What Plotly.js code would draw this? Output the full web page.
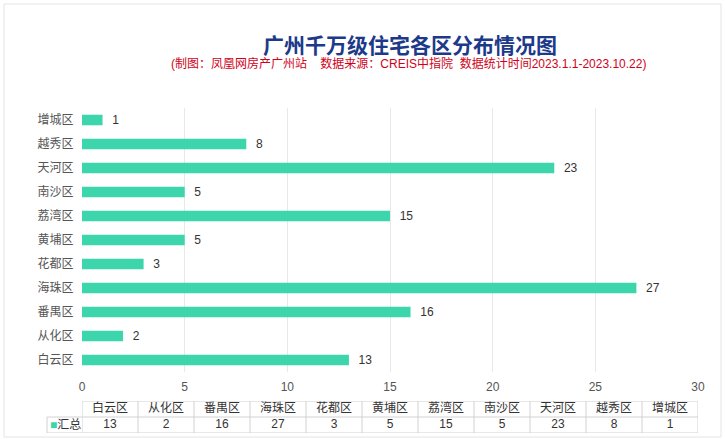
<!DOCTYPE html>
<html><head><meta charset="utf-8">
<script src="https://cdn.plot.ly/plotly-3.0.1.min.js"></script>
<style>html,body{margin:0;padding:0;background:#fff;}</style>
</head><body>
<div id="chart" style="width:725px;height:439px;"></div>
<script>
// Data (bottom to top as drawn)
const districts = ['白云区','从化区','番禺区','海珠区','花都区','黄埔区','荔湾区','南沙区','天河区','越秀区','增城区'];
const counts = [13, 2, 16, 27, 3, 5, 15, 5, 23, 8, 1];
const seriesName = '汇总';
const xTicks = [0, 5, 10, 15, 20, 25, 30];

const W = 725, H = 439;
const barColor = '#3dd5ac';
const gridLine = '#d2d2d2';
const font = '"Liberation Sans", Arial, "Noto Sans CJK SC", sans-serif';

const bar = {
  type: 'bar', orientation: 'h',
  y: districts, x: counts,
  marker: {color: barColor},
  text: counts.map(v => '\u00a0\u00a0' + v),
  textposition: 'outside',
  constraintext: 'none',
  textfont: {size: 12, color: '#333', family: font},
  cliponaxis: false,
  hoverinfo: 'none'
};

// data table under the chart: header row (row 1) and value row (row 0) on a category axis
const tableHeaderRow = {
  type: 'scatter', mode: 'text', xaxis: 'x2', yaxis: 'y2',
  x: districts, y: districts.map(() => 1.5),
  text: districts,
  textfont: {size: 12, color: '#333', family: font},
  cliponaxis: false, hoverinfo: 'none'
};
const tableValueRow = {
  type: 'scatter', mode: 'text', xaxis: 'x2', yaxis: 'y2',
  x: districts, y: districts.map(() => 0.5),
  text: counts.map(String),
  textfont: {size: 12, color: '#333', family: font},
  cliponaxis: false, hoverinfo: 'none'
};

const shapes = [{
  type: 'rect', xref: 'paper', yref: 'paper',
  x0: 4/W, x1: 721/W, y0: 1 - 437/H, y1: 1 - 4/H,
  line: {color: '#e4e4e4', width: 1}, fillcolor: 'rgba(0,0,0,0)'
}];
// table grid lines
const n = districts.length;
[1, 2].forEach(r => shapes.push({type: 'line', xref: 'x2', yref: 'y2', x0: -0.5, x1: n - 0.5, y0: r, y1: r, line: {color: gridLine, width: 1}}));
shapes.push({type: 'line', xref: 'paper', yref: 'y2', x0: 47/W, x1: 698/W, y0: 0, y1: 0, line: {color: gridLine, width: 1}});
shapes.push({type: 'line', xref: 'paper', yref: 'y2', x0: 47/W, x1: 82/W, y0: 1, y1: 1, line: {color: gridLine, width: 1}});
shapes.push({type: 'line', xref: 'paper', yref: 'y2', x0: 47/W, x1: 47/W, y0: 0, y1: 1, line: {color: gridLine, width: 1}});
for (let i = 0; i <= n; i++) {
  shapes.push({type: 'line', xref: 'x2', yref: 'y2', x0: i - 0.5, x1: i - 0.5, y0: 0, y1: 2, line: {color: gridLine, width: 1}});
}

const layout = {
  width: W, height: H,
  margin: {l: 0, r: 0, t: 0, b: 0},
  paper_bgcolor: '#fff', plot_bgcolor: '#fff',
  showlegend: false,
  bargap: 0.56,
  font: {family: font},
  xaxis: {
    domain: [82/W, 698/W],
    range: [0, 30],
    tickvals: xTicks,
    showgrid: true, gridcolor: '#e8e8e8', gridwidth: 1,
    zeroline: false, showline: false,
    ticks: 'outside', ticklen: 4, tickcolor: 'rgba(0,0,0,0)',
    tickfont: {size: 12, color: '#555', family: font},
    fixedrange: true
  },
  yaxis: {
    domain: [1 - 372/H, 1 - 108/H],
    type: 'category',
    showgrid: false, zeroline: false, showline: false,
    ticks: 'outside', ticklen: 5, tickcolor: 'rgba(0,0,0,0)',
    tickfont: {size: 12, color: '#555', family: font},
    fixedrange: true
  },
  xaxis2: {
    domain: [82/W, 698/W], anchor: 'y2',
    type: 'category', categoryarray: districts, categoryorder: 'array',
    range: [-0.5, n - 0.5],
    visible: false, fixedrange: true
  },
  yaxis2: {
    domain: [1 - 433/H, 1 - 401/H], anchor: 'x2',
    range: [0, 2], visible: false, fixedrange: true
  },
  shapes: shapes,
  annotations: [
    {text: '<b>广州千万级住宅各区分布情况图</b>', xref: 'paper', yref: 'paper',
     x: 410/W, y: 1 - 44/H, xanchor: 'center', yanchor: 'middle', showarrow: false,
     font: {size: 21, color: '#1d3a8a', family: '"Noto Sans CJK SC", sans-serif'}},
    {text: '(制图：凤凰网房产广州站\u00a0\u00a0\u00a0\u00a0数据来源：CREIS中指院\u00a0\u00a0数据统计时间2023.1.1-2023.10.22)', xref: 'paper', yref: 'paper',
     x: 408/W, y: 1 - 64/H, xanchor: 'center', yanchor: 'middle', showarrow: false,
     font: {size: 12, color: '#d0021b', family: font}},
    {text: '<span style="color:' + barColor + '">■</span>' + seriesName, xref: 'paper', yref: 'y2',
     x: 65/W, y: 0.5, xanchor: 'center', yanchor: 'middle', showarrow: false,
     font: {size: 12, color: '#333', family: font}}
  ]
};

Plotly.newPlot('chart', [bar, tableHeaderRow, tableValueRow], layout, {displayModeBar: false, staticPlot: true});
</script>
</body></html>
